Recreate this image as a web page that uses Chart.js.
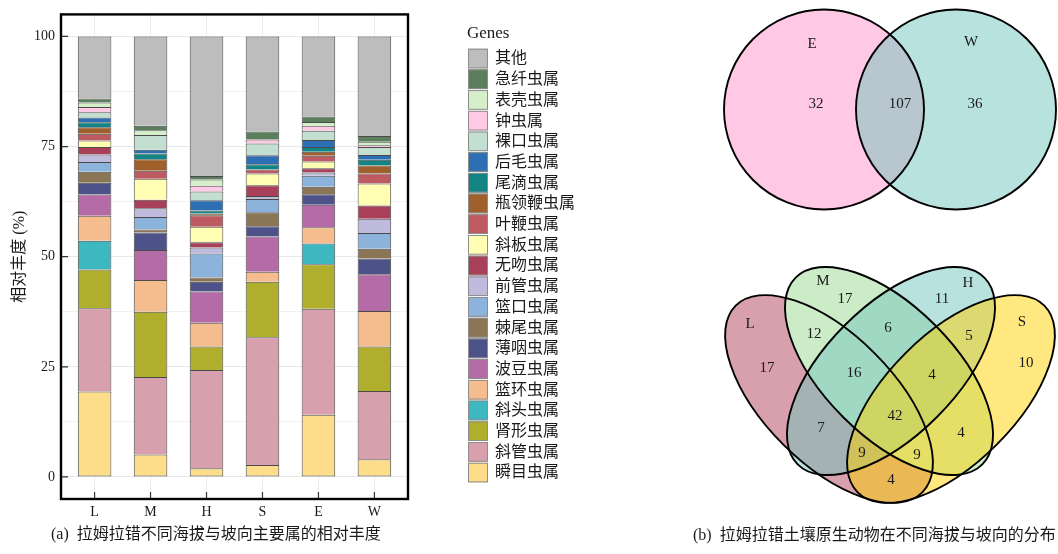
<!DOCTYPE html>
<html>
<head>
<meta charset="utf-8">
<script src="https://cdn.jsdelivr.net/npm/chart.js@4.4.1/dist/chart.umd.min.js"></script>
<style>
  html, body { margin: 0; padding: 0; background: #ffffff; }
  #page { position: relative; width: 1058px; height: 554px; overflow: hidden; }
  .box { position: absolute; top: 0; height: 554px; }
</style>
</head>
<body>
<div id="page">
  <div class="box" style="left:0;width:660px"><canvas id="bars"></canvas></div>
  <div class="box" style="left:660px;width:398px"><canvas id="venn"></canvas></div>
</div>
<script>
// ---- stacked bars: relative abundance (%) of the main genera, site order L M H S E W ----
const sites = ['L', 'M', 'H', 'S', 'E', 'W'];
const genusNames = ['瞬目虫属', '斜管虫属', '肾形虫属', '斜头虫属', '篮环虫属', '波豆虫属', '薄咽虫属',
  '棘尾虫属', '篮口虫属', '前管虫属', '无吻虫属', '斜板虫属', '叶鞭虫属', '瓶领鞭虫属', '尾滴虫属',
  '后毛虫属', '裸口虫属', '钟虫属', '表壳虫属', '急纤虫属', '其他'];

const shunmu     = [19.4,  5.1,  2.0,  2.7, 14.1,  4.0];
const xieguan    = [18.9, 17.6, 22.3, 29.0, 24.1, 15.5];
const shenxing   = [ 8.8, 14.8,  5.3, 12.6, 10.1, 10.1];
const xietou     = [ 6.5,  0.0,  0.0,  0.0,  4.7,  0.0];
const lanhuan    = [ 5.7,  7.2,  5.4,  2.3,  3.7,  8.1];
const bodou      = [ 4.8,  6.8,  7.1,  8.0,  5.1,  8.3];
const boyan      = [ 2.7,  4.0,  2.2,  2.3,  2.4,  3.6];
const jiwei      = [ 2.5,  0.7,  1.0,  3.2,  1.7,  2.2];
const lankou     = [ 2.2,  2.8,  5.4,  3.0,  2.5,  3.6];
const qianguan   = [ 1.7,  2.0,  1.4,  0.7,  0.7,  3.2];
const wuwen      = [ 1.7,  1.9,  1.2,  2.4,  1.0,  3.0];
const xieban     = [ 1.5,  4.8,  3.5,  2.7,  1.5,  5.0];
const yebian     = [ 1.5,  1.8,  2.6,  0.9,  1.3,  2.3];
const pingling   = [ 1.5,  2.6,  0.4,  0.0,  0.9,  1.8];
const weidi      = [ 1.1,  1.3,  0.7,  1.2,  1.1,  1.3];
const houmao     = [ 1.1,  0.9,  2.3,  2.0,  1.6,  1.1];
const luokou     = [ 1.2,  3.3,  2.0,  2.7,  2.1,  1.8];
const zhongchong = [ 1.2,  0.0,  1.3,  0.9,  1.1,  0.4];
const biaoke     = [ 1.0,  1.1,  1.4,  0.0,  0.9,  0.8];
const jixian     = [ 0.9,  1.0,  0.8,  1.8,  1.2,  1.3];
const qita       = [14.1, 20.3, 31.7, 21.6, 18.2, 22.6];

const yTickValues = [0, 25, 50, 75, 100];
const yMinorValues = [12.5, 37.5, 62.5, 87.5];

// ---- Venn counts ----
const pairSets = ['E', 'W'];
const pairCounts = [32, 107, 36];                 // E only, E∩W, W only
const quadSets = ['L', 'M', 'H', 'S'];
const quadRegions = ['L', 'M', 'H', 'S', 'LM', 'MH', 'HS', 'LMH', 'MHS', 'LH', 'LMHS', 'MS', 'LHS', 'LMS', 'LS'];
const quadCounts  = [17, 17, 11, 10, 12, 6, 5, 16, 4, 7, 42, 4, 9, 9, 4];

// ---- styling ----
const series = [shunmu, xieguan, shenxing, xietou, lanhuan, bodou, boyan, jiwei, lankou, qianguan,
  wuwen, xieban, yebian, pingling, weidi, houmao, luokou, zhongchong, biaoke, jixian, qita];
const palette = ['#FDDC8A', '#D7A0AC', '#AFAE2D', '#3EB8C0', '#F5BD8E', '#B56BA6', '#4D5288',
  '#8A7555', '#8CB3DC', '#BEBBDC', '#A9405A', '#FFFEB2', '#BE5B62', '#A0602C', '#118483',
  '#2D6FB4', '#C2DFD1', '#FFCAE5', '#D5F0C9', '#5B7F5C', '#BDBDBD'];
const SERIF = "'Liberation Serif', 'Noto Sans CJK SC', serif";
const INK = '#1a1a1a';

// frame around the panel and inward tick marks
const framePlugin = {
  id: 'frame',
  afterDatasetsDraw(chart) {
    const { ctx, chartArea: a, scales: { x, y } } = chart;
    ctx.save();
    ctx.strokeStyle = '#333333';
    ctx.lineWidth = 1.2;
    ctx.beginPath();
    yTickValues.forEach(v => {
      const py = y.getPixelForValue(v);
      ctx.moveTo(a.left, py); ctx.lineTo(a.left + 7, py);
    });
    sites.forEach((_, i) => {
      const px = x.getPixelForValue(i + 1);
      ctx.moveTo(px, a.bottom); ctx.lineTo(px, a.bottom - 7);
    });
    ctx.stroke();
    ctx.strokeStyle = '#000000';
    ctx.lineWidth = 2.4;
    ctx.strokeRect(a.left, a.top, a.right - a.left, a.bottom - a.top);
    ctx.restore();
  }
};

// legend column (top of stack first) and panel caption
const genesLegend = {
  id: 'genesLegend',
  afterDraw(chart) {
    const { ctx } = chart;
    const ds = chart.data.datasets;
    ctx.save();
    ctx.fillStyle = INK;
    ctx.textAlign = 'left';
    ctx.textBaseline = 'middle';
    ctx.font = `17px ${SERIF}`;
    ctx.fillText('Genes', 467, 34);
    ctx.font = `16px ${SERIF}`;
    for (let k = 0; k < ds.length; k++) {
      const d = ds[ds.length - 1 - k];
      const top = 48.7 + k * 20.7;
      ctx.fillStyle = d.backgroundColor;
      ctx.fillRect(468, top, 20, 19.7);
      ctx.strokeStyle = '#8c8c8c';
      ctx.lineWidth = 1;
      ctx.strokeRect(468.5, top + 0.5, 19, 18.7);
      ctx.fillStyle = INK;
      ctx.fillText(d.label, 495, top + 10.5);
    }
    ctx.font = `16px ${SERIF}`;
    ctx.fillText('(a)  拉姆拉错不同海拔与坡向主要属的相对丰度', 51, 535);
    ctx.restore();
  }
};

new Chart(document.getElementById('bars'), {
  type: 'bar',
  data: {
    datasets: series.map((vals, i) => ({
      label: genusNames[i],
      data: vals.map((v, j) => ({ x: j + 1, y: v })),
      backgroundColor: palette[i],
      borderColor: '#4a4a4a',
      borderWidth: 1,
      borderSkipped: i === 0 ? false : 'start',
      categoryPercentage: 1,
      barPercentage: 0.6
    }))
  },
  options: {
    responsive: true,
    maintainAspectRatio: false,
    animation: false,
    events: [],
    layout: { padding: { left: 0, top: 10, right: 252, bottom: 0 } },
    plugins: { legend: { display: false }, tooltip: { enabled: false } },
    scales: {
      x: {
        type: 'linear',
        stacked: true,
        offset: false,
        min: 0.4,
        max: 6.6,
        afterBuildTicks: s => { s.ticks = sites.map((_, i) => ({ value: i + 1 })); },
        afterFit: s => { s.height = 55; },
        ticks: {
          callback: v => sites[v - 1],
          autoSkip: false,
          maxRotation: 0,
          padding: 5,
          color: INK,
          font: { family: SERIF, size: 14 }
        },
        grid: { color: '#ebebeb', lineWidth: 1, drawTicks: false, offset: false },
        border: { display: false }
      },
      y: {
        type: 'linear',
        stacked: true,
        min: -5,
        max: 105,
        afterBuildTicks: s => {
          s.ticks = yTickValues.concat(yMinorValues).sort((p, q) => p - q).map(v => ({ value: v }));
        },
        afterFit: s => { s.width = 61; },
        ticks: {
          callback: v => (yTickValues.includes(v) ? String(v) : ''),
          autoSkip: false,
          padding: 6,
          color: INK,
          font: { family: SERIF, size: 14 }
        },
        grid: {
          color: c => (yTickValues.includes(c.tick.value) ? '#e8e8e8' : '#f1f1f1'),
          lineWidth: 1,
          drawTicks: false
        },
        border: { display: false },
        title: {
          display: true,
          text: '相对丰度 (%)',
          color: INK,
          font: { family: SERIF, size: 16 },
          padding: { top: 10, bottom: 0 }
        }
      }
    }
  },
  plugins: [framePlugin, genesLegend]
});

// ---- Venn panel: shapes in page-pixel units of the panel's own scales ----
const deg = Math.PI / 180;
const pairShapes = [
  { cx: 824, cy: 109.5, rx: 100, ry: 100, rot: 0, fill: 'rgba(255,145,201,0.5)' },
  { cx: 956, cy: 109.5, rx: 100, ry: 100, rot: 0, fill: 'rgba(113,197,189,0.5)' }
];
const quadShapes = [
  { cx: 829, cy: 399, rx: 132, ry: 64.6, rot: 45 * deg, fill: 'rgba(177,65,89,0.5)' },
  { cx: 889, cy: 371, rx: 132, ry: 65, rot: 45 * deg, fill: 'rgb(204,236,200)' },
  { cx: 891, cy: 371, rx: 132, ry: 65, rot: -45 * deg, fill: 'rgba(113,197,189,0.5)' },
  { cx: 951, cy: 399, rx: 132, ry: 64.6, rot: -45 * deg, fill: 'rgba(255,209,1,0.5)' }
];
const pairSetAnchors = [[812, 44], [971, 42]];
const pairCountAnchors = [[816, 104], [900, 104], [975, 104]];
const quadSetAnchors = [[750, 324], [823, 281], [968, 283], [1022, 322]];
const quadCountAnchors = [[767, 368], [845, 299], [942, 299], [1026, 363], [814, 334], [888, 328],
  [969, 336], [854, 373], [932, 375], [821, 428], [895, 416], [961, 433], [862, 453], [917, 455], [891, 480]];

const vennPlugin = {
  id: 'vennShapes',
  beforeDatasetsDraw(chart) {
    const { ctx, scales: { x, y } } = chart;
    const draw = (shapes) => {
      const paths = shapes.map(s => {
        const p = new Path2D();
        const px = x.getPixelForValue(s.cx), py = y.getPixelForValue(s.cy);
        const rx = x.getPixelForValue(s.cx + s.rx) - px;
        const ry = y.getPixelForValue(s.cy + s.ry) - py;
        p.ellipse(px, py, Math.abs(rx), Math.abs(ry), s.rot, 0, Math.PI * 2);
        return p;
      });
      paths.forEach((p, i) => { ctx.fillStyle = shapes[i].fill; ctx.fill(p); });
      ctx.strokeStyle = '#000000';
      ctx.lineWidth = 1.9;
      paths.forEach(p => ctx.stroke(p));
    };
    ctx.save();
    draw(pairShapes);
    draw(quadShapes);
    ctx.restore();
  },
  afterDatasetsDraw(chart) {
    const { ctx } = chart;
    ctx.save();
    ctx.fillStyle = INK;
    ctx.textAlign = 'center';
    ctx.textBaseline = 'middle';
    ctx.font = `15px ${SERIF}`;
    chart.data.datasets.forEach((d, i) => {
      chart.getDatasetMeta(i).data.forEach((el, j) => ctx.fillText(String(d.texts[j]), el.x, el.y));
    });
    ctx.textAlign = 'left';
    ctx.font = `16px ${SERIF}`;
    ctx.fillText('(b)  拉姆拉错土壤原生动物在不同海拔与坡向的分布', 33, 536);
    ctx.restore();
  }
};

const anchorData = list => list.map(([ax, ay]) => ({ x: ax, y: ay }));
new Chart(document.getElementById('venn'), {
  type: 'scatter',
  data: {
    datasets: [
      { label: 'pair sets', data: anchorData(pairSetAnchors), texts: pairSets, pointRadius: 0 },
      { label: 'pair counts', data: anchorData(pairCountAnchors), texts: pairCounts, pointRadius: 0 },
      { label: 'quad sets', data: anchorData(quadSetAnchors), texts: quadSets, pointRadius: 0 },
      { label: 'quad counts', data: anchorData(quadCountAnchors), texts: quadCounts, regions: quadRegions, pointRadius: 0 }
    ]
  },
  options: {
    responsive: true,
    maintainAspectRatio: false,
    animation: false,
    events: [],
    layout: { padding: 0 },
    plugins: { legend: { display: false }, tooltip: { enabled: false } },
    scales: {
      x: { type: 'linear', min: 660, max: 1058, display: false },
      y: { type: 'linear', min: 0, max: 554, reverse: true, display: false }
    }
  },
  plugins: [vennPlugin]
});
</script>
</body>
</html>
